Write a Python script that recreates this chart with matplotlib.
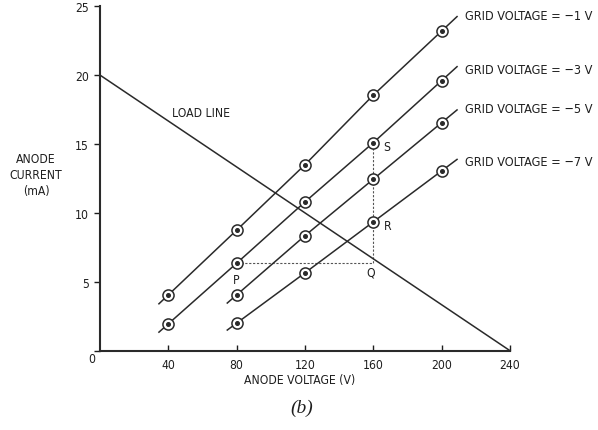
import matplotlib
matplotlib.use("Agg")
import matplotlib.pyplot as plt
import numpy as np
from matplotlib import font_manager

# ---- data ----
v_full = [40, 80, 120, 160, 200]
v_short = [80, 120, 160, 200]
i_m1 = [4.05, 8.75, 13.5, 18.55, 23.2]
i_m3 = [1.95, 6.35, 10.8, 15.1, 19.6]
i_m5 = [4.05, 8.35, 12.45, 16.55]
i_m7 = [2.0, 5.65, 9.35, 13.05]
grid_labels = ["GRID VOLTAGE = \u22121 V", "GRID VOLTAGE = \u22123 V",
               "GRID VOLTAGE = \u22125 V", "GRID VOLTAGE = \u22127 V"]
label_y = [24.3, 20.4, 17.55, 13.7]
load_v = [0, 240]
load_i = [20, 0]
op_v = [80, 160, 160]
op_i = [6.4, 6.4, 15.1]
xticks = [40, 80, 120, 160, 200, 240]
yticks = [0, 5, 10, 15, 20, 25]

cond = any(f.name == "DejaVu Sans" and str(f.stretch) in ("condensed", "semi-condensed", "87.5", "75")
           for f in font_manager.fontManager.ttflist)
if cond:
    plt.rcParams['font.family'] = ["DejaVu Sans"]
    plt.rcParams['font.stretch'] = 'condensed'
    FS = 8.7
    FG = 9.1
else:
    plt.rcParams['font.family'] = ["Liberation Sans", "DejaVu Sans"]
    FS = 8.3
    FG = 8.3

fig = plt.figure(figsize=(5.98, 4.31), dpi=100)
ax = fig.add_axes([100/598, (431-351.7)/431, 410/598, 344.5/431])
ax.set_xlim(0, 240)
ax.set_ylim(0, 25)

lc = "#2a2a2a"
tc = "#1e1e1e"
series = [(v_full, i_m1), (v_full, i_m3), (v_short, i_m5), (v_short, i_m7)]
for (vs, cs), lab, ly in zip(series, grid_labels, label_y):
    vs = np.array(vs, float); cs = np.array(cs, float)
    s0 = (cs[1]-cs[0])/(vs[1]-vs[0])
    s1 = (cs[-1]-cs[-2])/(vs[-1]-vs[-2])
    x0, x1 = vs[0]-5.5, vs[-1]+9
    xs = np.concatenate([[x0], vs, [x1]])
    ys = np.concatenate([[cs[0]-5.5*s0], cs, [cs[-1]+9*s1]])
    ax.plot(xs, ys, color=lc, lw=1.1, clip_on=False, zorder=2)
    ax.plot(vs, cs, 'o', ms=8, mfc='white', mec=lc, mew=1.1, clip_on=False, zorder=3)
    ax.plot(vs, cs, 'o', ms=2.6, color=lc, clip_on=False, zorder=4)
    ax.text(213.7, ly, lab, fontsize=FG, va='center', ha='left', color=tc, clip_on=False)

ax.plot(load_v, load_i, color=lc, lw=1.1, clip_on=False, zorder=2)
ax.plot(op_v, op_i, color='#555555', lw=0.8, ls=(0, (2, 1.5)), zorder=1)

ax.text(42, 17.25, "LOAD LINE", fontsize=FS, va='center', ha='left', color=tc)
for t, x, y in [("S", 166, 14.85), ("R", 166, 9.1), ("Q", 158.5, 5.7), ("P", 80, 5.2)]:
    ax.text(x, y, t, fontsize=FS, va='center', ha='center' if t in "PQ" else 'left', color=tc)

for s in ['top', 'right']:
    ax.spines[s].set_visible(False)
for s in ['left', 'bottom']:
    ax.spines[s].set_linewidth(1.5)
    ax.spines[s].set_color(lc)
ax.set_xticks(xticks)
ax.set_yticks(yticks)
ax.tick_params(axis='x', direction='in', length=4, width=1, labelsize=FS, colors=tc, pad=5)
ax.tick_params(axis='y', direction='out', length=4, width=1, labelsize=FS, colors=tc, pad=4)
ax.text(-3, -0.1, "0", fontsize=FS, ha='right', va='top', color=tc, transform=ax.transData)
ax.set_yticklabels([""] + [str(t) for t in yticks[1:]])

fig.text(300/598, 1-381/431, "ANODE VOLTAGE (V)", fontsize=FS, ha='center', va='center', color=tc)
fig.text(36/598, 1-176/431, "ANODE\nCURRENT\n(mA)", fontsize=FS, ha='center', va='center',
         color=tc, linespacing=1.3)
fig.text(302/598, 1-408/431, "(b)", fontsize=14, ha='center', va='center', style='italic',
         family=['Liberation Serif', 'DejaVu Serif'], stretch='normal', color=tc)

fig.savefig("out.png", dpi=100, facecolor='white')
